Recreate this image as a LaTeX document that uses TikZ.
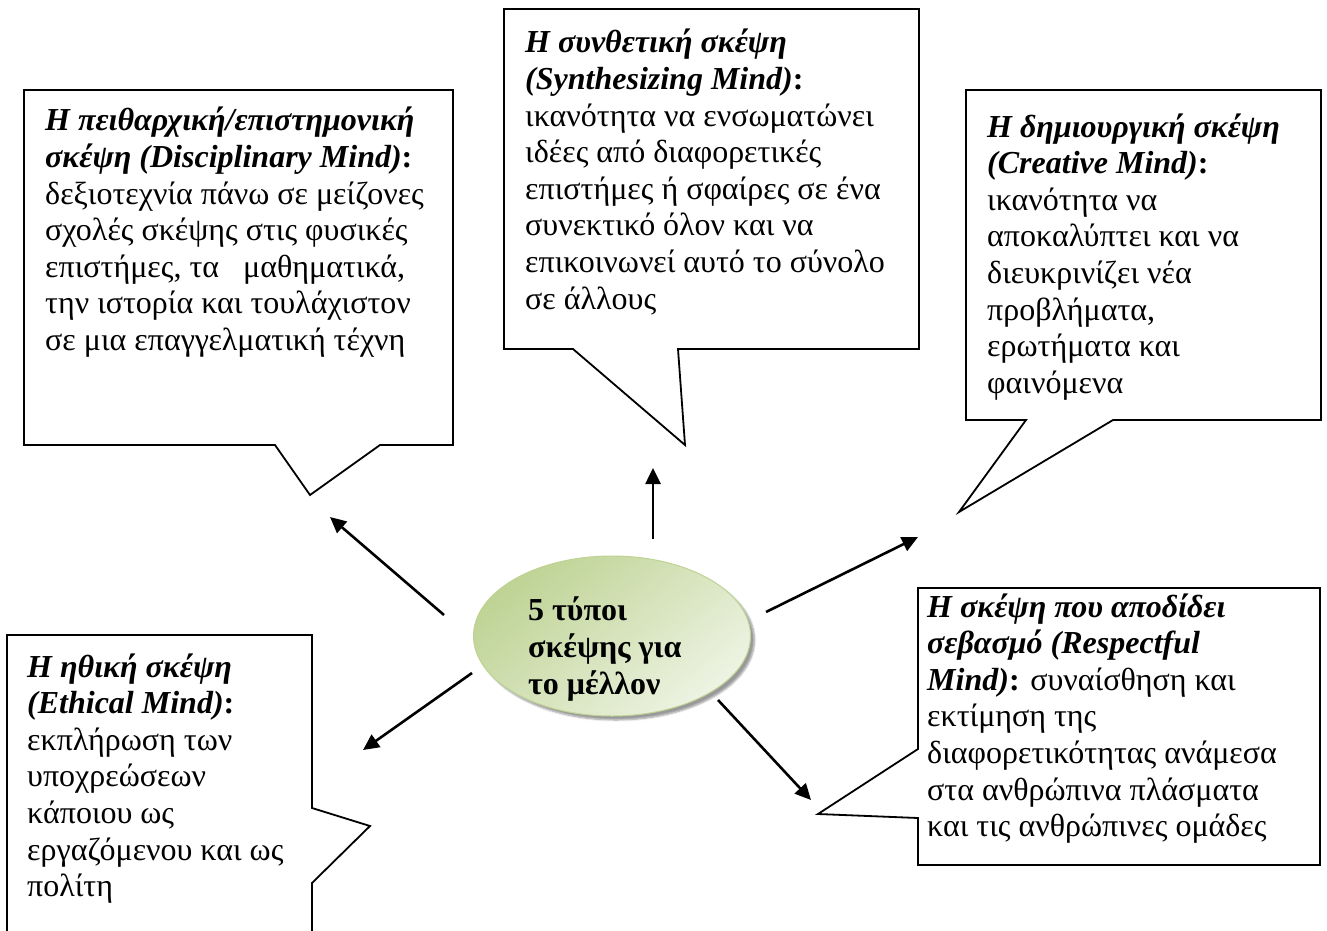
\documentclass[tikz,border=0pt]{standalone}
\usepackage{fontspec}
\setmainfont{Liberation Serif}
\usetikzlibrary{arrows.meta,shapes.geometric,shadows.blur}
\definecolor{gOut}{RGB}{190,211,148}
\definecolor{gIn}{RGB}{238,243,227}
\newcommand{\bi}[1]{\textbf{\textit{#1}}}
\begin{document}
\begin{tikzpicture}[x=1pt,y=-1pt,
  box/.style={draw=black,line width=1.8pt,fill=white,line join=miter},
  txt/.style={anchor=base west,inner sep=0pt,font=\fontsize{32}{36.6}\selectfont},
  arr/.style={line width=2.6pt,-{Triangle[length=16pt,width=15pt]}},
  hub/.style={ellipse,draw=gOut,line width=1pt,minimum width=277pt,minimum height=160pt,
    top color=gOut,bottom color=gIn,shading angle=40,
    blur shadow={shadow xshift=4pt,shadow yshift=-4pt,shadow blur steps=6}}]
\useasboundingbox (0,0) rectangle (1327,931);

% callout boxes
\draw[box] (24,90) -- (453,90) -- (453,445) -- (380,445) -- (310,495) -- (275,445) -- (24,445) -- cycle;
\draw[box] (504,9) -- (919,9) -- (919,349) -- (678,349) -- (685,445) -- (573,349) -- (504,349) -- cycle;
\draw[box] (966,90) -- (1321,90) -- (1321,420) -- (1113,420) -- (959,512) -- (1026,420) -- (966,420) -- cycle;
\draw[box] (7,934) -- (7,635) -- (312,635) -- (312,808) -- (370,826) -- (312,883) -- (312,934);
\draw[box] (918,588) -- (1320,588) -- (1320,865) -- (918,865) -- (918,818) -- (818,814) -- (918,749) -- cycle;

% texts
\node[txt] (t1) at (45,131) {\parbox[t]{440pt}{\raggedright
\bi{Η πειθαρχική/επιστημονική}\\
\bi{σκέψη (Disciplinary Mind)}\textbf{:}\\
δεξιοτεχνία πάνω σε μείζονες\\
σχολές σκέψης στις φυσικές\\
επιστήμες, τα\ \ \ μαθηματικά,\\
την ιστορία και τουλάχιστον\\
σε μια επαγγελματική τέχνη}};

\node[txt] (t2) at (525,53) {\parbox[t]{440pt}{\raggedright
\bi{Η συνθετική σκέψη}\\
\bi{(Synthesizing Mind)}\textbf{:}\\
ικανότητα να ενσωματώνει\\
ιδέες από διαφορετικές\\
επιστήμες ή σφαίρες σε ένα\\
συνεκτικό όλον και να\\
επικοινωνεί αυτό το σύνολο\\
σε άλλους}};

\node[txt] (t3) at (987,137) {\parbox[t]{440pt}{\raggedright
\bi{Η δημιουργική σκέψη}\\
\bi{(Creative Mind)}\textbf{:}\\
ικανότητα να\\
αποκαλύπτει και να\\
διευκρινίζει νέα\\
προβλήματα,\\
ερωτήματα και\\
φαινόμενα}};

\node[txt] (t4) at (27,677) {\parbox[t]{440pt}{\raggedright
\bi{Η ηθική σκέψη}\\
\bi{(Ethical Mind)}\textbf{:}\\
εκπλήρωση των\\
υποχρεώσεων\\
κάποιου ως\\
εργαζόμενου και ως\\
πολίτη}};

\node[txt] (t5) at (927,617) {\parbox[t]{440pt}{\raggedright
\bi{Η σκέψη που αποδίδει}\\
\bi{σεβασμό (Respectful}\\
\bi{Mind)}\textbf{:} συναίσθηση και\\
εκτίμηση της\\
διαφορετικότητας ανάμεσα\\
στα ανθρώπινα πλάσματα\\
και τις ανθρώπινες ομάδες}};

% hub
\node[hub] (c) at (612,636) {};
\node[txt,font=\fontsize{32}{37}\selectfont\bfseries] (ct) at (528,620) {\parbox[t]{200pt}{\raggedright
5 τύποι\\ σκέψης για\\ το μέλλον}};

% arrows
\coordinate (a1s) at (444,615); \coordinate (a1e) at (330,517);
\coordinate (a2s) at (653,539); \coordinate (a2e) at (653,468);
\coordinate (a3s) at (766,612); \coordinate (a3e) at (918,537);
\coordinate (a4s) at (472,673); \coordinate (a4e) at (363,750);
\coordinate (a5s) at (718,700); \coordinate (a5e) at (811,800);
\draw[arr] (a1s) -- (a1e);
\draw[arr] (a2s) -- (a2e);
\draw[arr] (a3s) -- (a3e);
\draw[arr] (a4s) -- (a4e);
\draw[arr] (a5s) -- (a5e);
\end{tikzpicture}
\end{document}
